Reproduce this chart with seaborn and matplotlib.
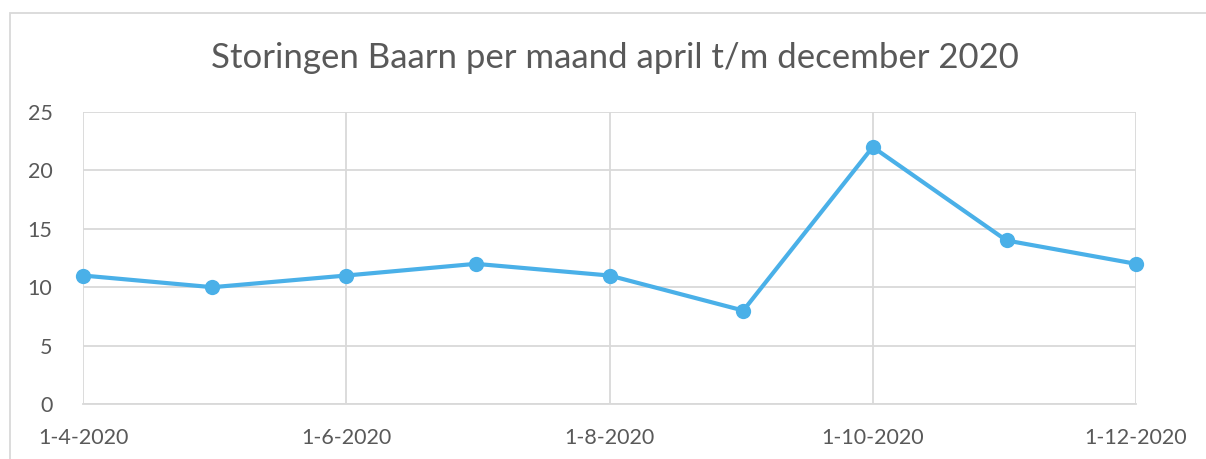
import pandas as pd
import matplotlib.pyplot as plt
import seaborn as sns
from matplotlib.patches import Rectangle

# Data
maanden = ['2020-04-01', '2020-05-01', '2020-06-01', '2020-07-01', '2020-08-01',
           '2020-09-01', '2020-10-01', '2020-11-01', '2020-12-01']
storingen = [11, 10, 11, 12, 11, 8, 22, 14, 12]
tick_datums = ['2020-04-01', '2020-06-01', '2020-08-01', '2020-10-01', '2020-12-01']
tick_labels = ['1-4-2020', '1-6-2020', '1-8-2020', '1-10-2020', '1-12-2020']

df = pd.DataFrame({'Datum': pd.to_datetime(maanden), 'Storingen': storingen})

sns.set_style('white')
plt.rcParams['font.family'] = ['Lato', 'DejaVu Sans']
tekst_kleur = '#595959'
grid_kleur = '#d9d9d9'

fig = plt.figure(figsize=(12.06, 4.59), dpi=100)
ax = fig.add_axes([83 / 1206, 1 - 404 / 459, (1136 - 83) / 1206, (404 - 112) / 459])

# Chart border (runs off the right and bottom of the image)
fig.patches.append(Rectangle((10 / 1206, -0.2), 1.2, 1 - 13 / 459 + 0.2,
                             transform=fig.transFigure, fill=False,
                             edgecolor=grid_kleur, linewidth=1.3))

sns.lineplot(data=df, x='Datum', y='Storingen', ax=ax, color='#4AB0E8',
             linewidth=3, marker='o', markersize=11, markeredgewidth=0,
             zorder=3, clip_on=False)

ax.set_xlim(pd.Timestamp('2020-04-01'), pd.Timestamp('2020-12-01'))
ax.set_ylim(0, 25)
ax.set_yticks([0, 5, 10, 15, 20, 25])
ax.set_xticks(pd.to_datetime(tick_datums))
ax.set_xticklabels(tick_labels)
ax.grid(True, color=grid_kleur, linewidth=1.3)
ax.set_axisbelow(True)
for side in ['top', 'right', 'left']:
    ax.spines[side].set_visible(False)
ax.spines['bottom'].set_color(grid_kleur)
ax.spines['bottom'].set_linewidth(1.3)
ax.tick_params(axis='both', length=0, labelsize=15.5, colors=tekst_kleur)
ax.tick_params(axis='x', pad=17)
ax.tick_params(axis='y', pad=22)
ax.set_xlabel('')
ax.set_ylabel('')

fig.text(615 / 1206, 1 - 58 / 459, 'Storingen Baarn per maand april t/m december 2020',
         ha='center', va='center', fontsize=25, color=tekst_kleur)

fig.savefig('out.png', dpi=100)
